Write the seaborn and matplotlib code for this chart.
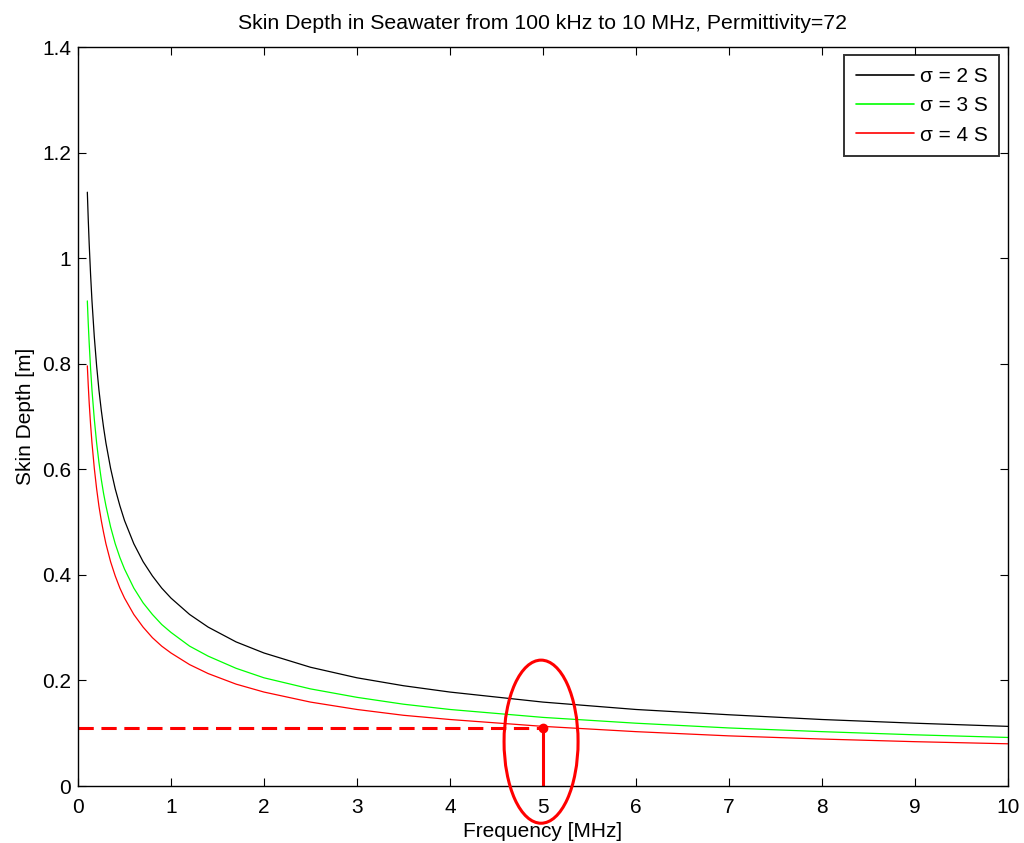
import numpy as np
import pandas as pd
import matplotlib
matplotlib.use("Agg")
import matplotlib.pyplot as plt
from matplotlib.patches import Ellipse
import seaborn as sns

freq_mhz = [0.1, 0.11, 0.12, 0.135, 0.15, 0.175, 0.2, 0.225, 0.25, 0.275, 0.3, 0.35, 0.4,
            0.45, 0.5, 0.6, 0.7, 0.8, 0.9, 1.0, 1.2, 1.4, 1.7, 2.0, 2.5, 3.0, 3.5, 4.0,
            5.0, 6.0, 7.0, 8.0, 9.0, 10.0]
depth_s2 = [1.125, 1.073, 1.027, 0.969, 0.919, 0.851, 0.796, 0.750, 0.712, 0.679, 0.650,
            0.602, 0.563, 0.531, 0.503, 0.459, 0.425, 0.398, 0.375, 0.356, 0.325, 0.301,
            0.273, 0.252, 0.225, 0.205, 0.190, 0.178, 0.159, 0.145, 0.135, 0.126, 0.119,
            0.113]
depth_s3 = [0.919, 0.876, 0.839, 0.791, 0.750, 0.695, 0.650, 0.613, 0.581, 0.554, 0.531,
            0.491, 0.459, 0.433, 0.411, 0.375, 0.347, 0.325, 0.306, 0.291, 0.265, 0.246,
            0.223, 0.205, 0.184, 0.168, 0.155, 0.145, 0.130, 0.119, 0.110, 0.103, 0.097,
            0.092]
depth_s4 = [0.796, 0.759, 0.726, 0.685, 0.650, 0.602, 0.563, 0.530, 0.503, 0.480, 0.459,
            0.425, 0.398, 0.375, 0.356, 0.325, 0.301, 0.281, 0.265, 0.252, 0.230, 0.213,
            0.193, 0.178, 0.159, 0.145, 0.134, 0.126, 0.113, 0.103, 0.095, 0.089, 0.084,
            0.080]
labels = ["σ = 2 S", "σ = 3 S", "σ = 4 S"]
colors = ["#000000", "#00ff00", "#ff0000"]

marker_freq = 5.0
marker_depth = 0.11

sns.set_style("ticks")
plt.rcParams["font.family"] = ["Liberation Sans", "DejaVu Sans"]
plt.rcParams["text.color"] = "black"
plt.rcParams["axes.labelcolor"] = "black"

df = pd.concat([
    pd.DataFrame({"f": freq_mhz, "d": depth_s2, "series": labels[0]}),
    pd.DataFrame({"f": freq_mhz, "d": depth_s3, "series": labels[1]}),
    pd.DataFrame({"f": freq_mhz, "d": depth_s4, "series": labels[2]}),
])

fig = plt.figure(figsize=(10.24, 8.43), dpi=100)
ax = fig.add_axes([0.0762, 0.0676, 0.908, 0.8766])
sns.lineplot(data=df, x="f", y="d", hue="series", palette=dict(zip(labels, colors)),
             linewidth=0.9, ax=ax, legend=True)

ax.plot([0, marker_freq], [marker_depth, marker_depth], color="red", linestyle=(0, (5, 2.5)),
        linewidth=2.2)
ax.plot([marker_freq, marker_freq], [0, marker_depth], color="red", linewidth=2.2)
ax.plot([marker_freq], [marker_depth], "o", color="red", markersize=6)
ell = Ellipse((4.98, 0.084), 0.796, 0.309, fill=False, edgecolor="red", linewidth=2.2,
              clip_on=False, zorder=5)
ax.add_patch(ell)

ax.set_xlim(0, 10)
ax.set_ylim(0, 1.4)
ax.set_xticks(range(0, 11))
ax.set_yticks([0, 0.2, 0.4, 0.6, 0.8, 1.0, 1.2, 1.4])
ax.set_yticklabels(["0", "0.2", "0.4", "0.6", "0.8", "1", "1.2", "1.4"])
ax.tick_params(direction="in", top=True, right=True, length=6, width=0.8,
               labelsize=15, colors="black")
ax.tick_params(axis="x", pad=8.5)
ax.tick_params(axis="y", pad=5)
for s in ax.spines.values():
    s.set_visible(True)
    s.set_linewidth(1.0)
    s.set_color("black")
ax.set_xlabel("Frequency [MHz]", fontsize=15, labelpad=4)
ax.set_ylabel("Skin Depth [m]", fontsize=15, labelpad=5)
ax.set_title("Skin Depth in Seawater from 100 kHz to 10 MHz, Permittivity=72", fontsize=15.3,
             pad=13)

leg = ax.legend(loc="upper right", fontsize=15, frameon=True, fancybox=False,
                edgecolor="black", borderaxespad=0.4, handlelength=2.8, handletextpad=0.3,
                labelspacing=0.5, borderpad=0.55)
leg.get_frame().set_linewidth(1.4)
for line in leg.get_lines():
    line.set_linewidth(1.2)

fig.savefig("out.png", dpi=100)
